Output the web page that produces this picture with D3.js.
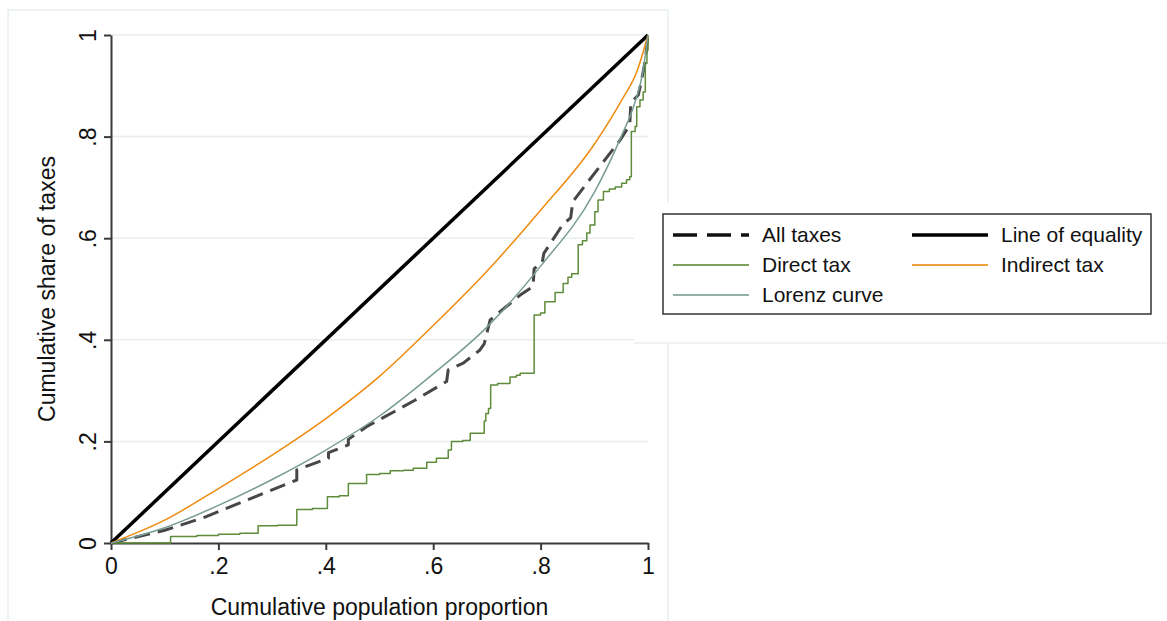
<!DOCTYPE html>
<html>
<head>
<meta charset="utf-8">
<script src="https://cdn.jsdelivr.net/npm/d3@7"></script>
<style>
    body { margin: 0; background: #fff; }
    text { font-family: "Liberation Sans", Arial, sans-serif; fill: #111; }
</style>
</head>
<body>
<div class="svgBox"></div>
<script>
// concentration curves, x = cumulative population proportion, y = cumulative share
var equality = [[0, 0], [1, 1]];

var indirectTax = [[0, 0], [.1, .045], [.2, .107], [.3, .173], [.4, .245], [.5, .328],
    [.6, .428], [.7, .535], [.8, .655], [.9, .785], [.95, .87], [.98, .93], [1, 1]];

var lorenz = [[0, 0], [.1, .03], [.2, .074], [.3, .125], [.4, .183], [.5, .25], [.6, .333],
    [.7, .425], [.8, .545], [.9, .69], [.95, .8], [.975, .865], [.99, .925], [1, 1]];

var allTaxes = [[0, 0], [.1, .025], [.175, .051], [.268, .091], [.346, .124], [.346, .144],
    [.405, .167], [.405, .178], [.442, .193], [.442, .204], [.476, .229], [.566, .281],
    [.625, .318], [.628, .341], [.656, .354], [.687, .38], [.695, .392], [.706, .439],
    [.762, .488], [.786, .505], [.788, .54], [.803, .552], [.806, .57], [.842, .628],
    [.856, .64], [.86, .672], [.886, .708], [.948, .793], [.966, .823], [.968, .866],
    [.982, .882], [.988, .911], [.995, .95], [1, 1]];

// direct tax is a step function (value holds until next x)
var directTax = [[0, 0], [.111, .013], [.16, .015], [.2, .017], [.24, .019], [.274, .034],
    [.31, .035], [.346, .066], [.375, .068], [.403, .091], [.425, .093], [.442, .117],
    [.476, .135], [.5, .137], [.52, .142], [.545, .143], [.563, .147], [.588, .159],
    [.606, .167], [.628, .183], [.634, .2], [.655, .202], [.669, .216], [.695, .24],
    [.698, .255], [.703, .265], [.707, .311], [.72, .314], [.743, .327], [.755, .33],
    [.762, .334], [.788, .449], [.8, .453], [.808, .475], [.827, .493], [.842, .511],
    [.851, .523], [.858, .53], [.87, .587], [.878, .595], [.886, .61], [.892, .626],
    [.901, .652], [.907, .675], [.917, .692], [.928, .697], [.939, .701], [.951, .708],
    [.96, .715], [.966, .721], [.969, .81], [.976, .82], [.979, .859], [.985, .872],
    [.991, .888], [.995, .944], [.998, .97], [1, 1]];

var ticks = [0, .2, .4, .6, .8, 1];
var tickLabels = ["0", ".2", ".4", ".6", ".8", "1"];

var legendItems = [
    { name: "All taxes", key: "all" },
    { name: "Line of equality", key: "eq" },
    { name: "Direct tax", key: "direct" },
    { name: "Indirect tax", key: "indirect" },
    { name: "Lorenz curve", key: "lorenz" }
];

// line styles
var styles = {
    all: { color: "#474747", width: 3, dash: "16,8", legendColor: "#111", legendDash: "24,10" },
    eq: { color: "#000", width: 3.5 },
    direct: { color: "#5e8c3a", width: 1.5 },
    indirect: { color: "#ef8a10", width: 1.5 },
    lorenz: { color: "#789d95", width: 1.5 }
};

var W = 1167, H = 621;
var plot = { left: 111, right: 648, top: 35, bottom: 543 };
var fs = 23;

var svg = d3.select(".svgBox").append("svg")
    .attr("width", W)
    .attr("height", H);

var x = d3.scaleLinear().domain([0, 1]).range([plot.left, plot.right]);
var y = d3.scaleLinear().domain([0, 1]).range([plot.bottom, plot.top]);

var faint = "#e8eef0";

// outer graph frame
svg.append("path")
    .attr("d", "M8,621V10H668V621")
    .attr("fill", "none")
    .attr("stroke", faint)
    .attr("stroke-width", 1.5);

// gridlines
svg.append("g").selectAll("line")
    .data(ticks.slice(1))
    .enter().append("line")
    .attr("x1", plot.left)
    .attr("x2", plot.right)
    .attr("y1", function(d) { return y(d); })
    .attr("y2", function(d) { return y(d); })
    .attr("stroke", faint)
    .attr("stroke-width", 1.5);

// legend region covers part of the graph
svg.append("rect")
    .attr("x", 634).attr("y", 203)
    .attr("width", W - 634).attr("height", 140)
    .attr("fill", "#fff");
svg.append("line")
    .attr("x1", 634).attr("x2", W)
    .attr("y1", 343).attr("y2", 343)
    .attr("stroke", faint)
    .attr("stroke-width", 1.5);

// axes
var xAxis = d3.axisBottom(x).tickValues(ticks)
    .tickFormat(function(d, i) { return tickLabels[i]; })
    .tickSizeInner(7).tickSizeOuter(0);
var yAxis = d3.axisLeft(y).tickValues(ticks)
    .tickFormat(function(d, i) { return tickLabels[i]; })
    .tickSizeInner(7).tickSizeOuter(0);

var gx = svg.append("g")
    .attr("transform", "translate(0," + plot.bottom + ")")
    .call(xAxis);
gx.selectAll("text")
    .attr("y", 15)
    .attr("dy", "0.71em")
    .attr("font-size", fs)
    .attr("font-family", "Liberation Sans, Arial, sans-serif")
    .attr("fill", "#111");

var gy = svg.append("g")
    .attr("transform", "translate(" + plot.left + ",0)")
    .call(yAxis);
gy.selectAll("text")
    .attr("x", null).attr("dy", null)
    .attr("text-anchor", "middle")
    .attr("font-size", fs)
    .attr("font-family", "Liberation Sans, Arial, sans-serif")
    .attr("fill", "#111")
    .attr("transform", "translate(-15,0) rotate(-90)");

svg.selectAll(".domain, .tick line")
    .attr("stroke", "#3a3a3a")
    .attr("stroke-width", 2);

// axis titles
svg.append("text")
    .attr("x", (plot.left + plot.right) / 2)
    .attr("y", 615)
    .attr("text-anchor", "middle")
    .attr("font-size", fs)
    .text("Cumulative population proportion");

svg.append("text")
    .attr("transform", "translate(55," + ((plot.top + plot.bottom) / 2) + ") rotate(-90)")
    .attr("text-anchor", "middle")
    .attr("font-size", fs)
    .text("Cumulative share of taxes");

// curves
var line = d3.line()
    .x(function(d) { return x(d[0]); })
    .y(function(d) { return y(d[1]); });
var smoothLine = d3.line()
    .x(function(d) { return x(d[0]); })
    .y(function(d) { return y(d[1]); })
    .curve(d3.curveMonotoneX);
var stepLine = d3.line()
    .x(function(d) { return x(d[0]); })
    .y(function(d) { return y(d[1]); })
    .curve(d3.curveStepAfter);

var series = [
    { key: "all", data: allTaxes, gen: line },
    { key: "eq", data: equality, gen: line },
    { key: "direct", data: directTax, gen: stepLine },
    { key: "indirect", data: indirectTax, gen: smoothLine },
    { key: "lorenz", data: lorenz, gen: smoothLine }
];

svg.append("g").selectAll("path")
    .data(series)
    .enter().append("path")
    .attr("d", function(d) { return d.gen(d.data); })
    .attr("fill", "none")
    .attr("stroke", function(d) { return styles[d.key].color; })
    .attr("stroke-width", function(d) { return styles[d.key].width; })
    .attr("stroke-dasharray", function(d) { return styles[d.key].dash || null; })
    .attr("stroke-linejoin", "round");

// legend
var legend = svg.append("g");
legend.append("rect")
    .attr("x", 663).attr("y", 214)
    .attr("width", 488).attr("height", 100)
    .attr("fill", "#fff")
    .attr("stroke", "#333")
    .attr("stroke-width", 1.5);

var item = legend.selectAll("g.item")
    .data(legendItems)
    .enter().append("g")
    .attr("class", "item")
    .attr("transform", function(d, i) {
        return "translate(" + (i % 2 ? 912 : 673) + "," + (235 + Math.floor(i / 2) * 30) + ")";
    });

item.append("line")
    .attr("x1", 0).attr("x2", 76)
    .attr("stroke", function(d) { return styles[d.key].legendColor || styles[d.key].color; })
    .attr("stroke-width", function(d) { return d.key == "all" || d.key == "eq" ? 3.5 : 2; })
    .attr("stroke-dasharray", function(d) { return styles[d.key].legendDash || null; })
    .attr("stroke-opacity", function(d) { return d.key == "all" || d.key == "eq" ? 1 : 0.8; });

item.append("text")
    .attr("x", 89)
    .attr("dy", "0.35em")
    .attr("font-size", 21)
    .text(function(d) { return d.name; });
</script>
</body>
</html>
